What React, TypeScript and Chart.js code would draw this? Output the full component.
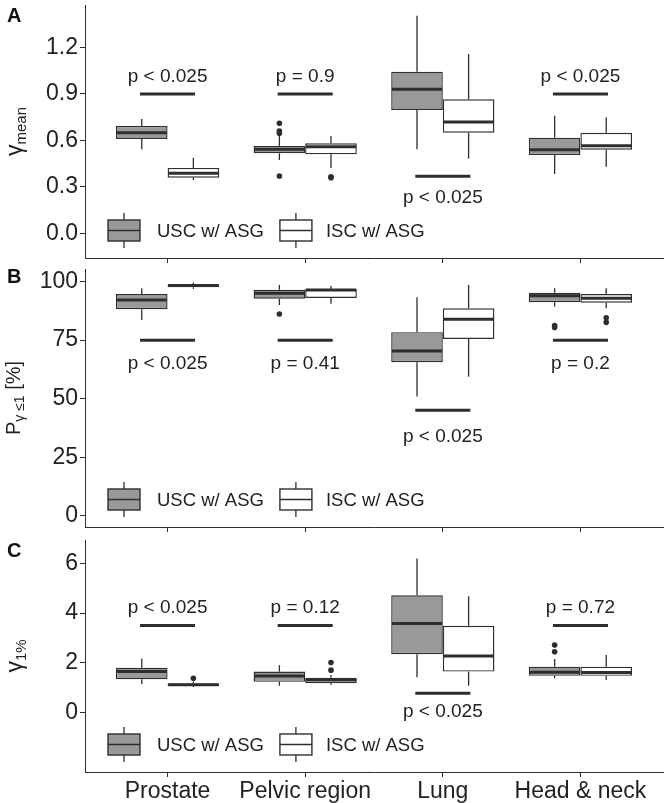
import React, { useEffect, useRef } from 'react';
import { Chart, registerables } from 'chart.js';

Chart.register(...registerables);

const FONT = '"Liberation Sans", Arial, Helvetica, sans-serif';
const INK = '#2e2e2e';
const TEXT = '#222222';

const categories = ['Prostate', 'Pelvic region', 'Lung', 'Head & neck'];
const seriesNames = ['USC w/ ASG', 'ISC w/ ASG'];
const seriesFills = ['#999999', '#ffffff'];

// ---------- Panel A : gamma mean ----------
const aTicks = [0, 0.3, 0.6, 0.9, 1.2];
const aTickLabels = ['0.0', '0.3', '0.6', '0.9', '1.2'];
const aUscQ1 = [0.61, 0.517, 0.797, 0.506];
const aUscMed = [0.65, 0.543, 0.93, 0.541];
const aUscQ3 = [0.694, 0.565, 1.044, 0.618];
const aUscLo = [0.543, 0.474, 0.543, 0.384];
const aUscHi = [0.739, 0.629, 1.405, 0.76];
const aIscQ1 = [0.36, 0.511, 0.65, 0.541];
const aIscMed = [0.388, 0.56, 0.719, 0.566];
const aIscQ3 = [0.423, 0.582, 0.866, 0.65];
const aIscLo = [0.345, 0.423, 0.483, 0.431];
const aIscHi = [0.489, 0.629, 1.158, 0.75];
const aUscOutCat = [2, 2, 2, 2];
const aUscOutVal = [0.711, 0.661, 0.646, 0.371];
const aIscOutCat = [2, 2];
const aIscOutVal = [0.366, 0.36];
const aPBarY = [0.9, 0.9, 0.37, 0.9];
const aPTextY = [0.98, 0.98, 0.2, 0.98];
const aPText = ['p < 0.025', 'p = 0.9', 'p < 0.025', 'p < 0.025'];

// ---------- Panel B : P gamma<=1 ----------
const bTicks = [0, 25, 50, 75, 100];
const bTickLabels = ['0', '25', '50', '75', '100'];
const bUscQ1 = [88.2, 92.7, 65.6, 91.2];
const bUscMed = [92.2, 95.0, 70.4, 94.0];
const bUscQ3 = [94.7, 96.5, 78.4, 95.3];
const bUscLo = [83.6, 90.0, 50.9, 89.3];
const bUscHi = [97.2, 98.6, 93.3, 97.2];
const bIscQ1 = [97.6, 93.0, 75.5, 91.0];
const bIscMed = [98.3, 96.4, 83.9, 92.9];
const bIscQ3 = [98.9, 96.9, 88.6, 94.7];
const bIscLo = [96.9, 90.5, 59.4, 88.6];
const bIscHi = [99.6, 98.2, 98.6, 97.2];
const bUscOutCat = [2, 4, 4];
const bUscOutVal = [86.2, 81.2, 80.4];
const bIscOutCat = [4, 4];
const bIscOutVal = [84.6, 82.6];
const bPBarY = [75, 75, 45, 75];
const bPTextY = [62.5, 62.5, 31.5, 62.5];
const bPText = ['p < 0.025', 'p = 0.41', 'p < 0.025', 'p = 0.2'];

// ---------- Panel C : gamma 1% ----------
const cTicks = [0, 2, 4, 6];
const cTickLabels = ['0', '2', '4', '6'];
const cUscQ1 = [1.33, 1.23, 2.34, 1.47];
const cUscMed = [1.64, 1.46, 3.58, 1.61];
const cUscQ3 = [1.8, 1.64, 4.72, 1.84];
const cUscLo = [1.14, 1.07, 1.41, 1.37];
const cUscHi = [2.17, 1.9, 6.2, 2.15];
const cIscQ1 = [1.06, 1.17, 1.64, 1.47];
const cIscMed = [1.11, 1.3, 2.27, 1.6];
const cIscQ3 = [1.16, 1.39, 3.49, 1.84];
const cIscLo = [1.02, 1.1, 1.07, 1.3];
const cIscHi = [1.24, 1.5, 4.68, 2.31];
const cUscOutCat = [4, 4];
const cUscOutVal = [2.71, 2.44];
const cIscOutCat = [1, 2, 2];
const cIscOutVal = [1.37, 2.01, 1.7];
const cPBarY = [3.5, 3.5, 0.77, 3.5];
const cPTextY = [4.0, 4.0, -0.21, 4.0];
const cPText = ['p < 0.025', 'p = 0.12', 'p < 0.025', 'p = 0.72'];

type Stats = { q1: number[]; med: number[]; q3: number[]; lo: number[]; hi: number[] };
type Seg = { t: string; sub?: boolean };
interface PanelSpec {
  letter: string;
  letterY: number;
  top: number;
  height: number;
  padTop: number;
  xHeight: number;
  yMin: number;
  yMax: number;
  yTicks: number[];
  yTickLabels: string[];
  showX: boolean;
  series: Stats[];
  outCat: number[][];
  outVal: number[][];
  pBarY: number[];
  pTextY: number[];
  pText: string[];
  title: Seg[];
  titleX: number;
  titleMain: number;
  titleSub: number;
}

const panels: PanelSpec[] = [
  {
    letter: 'A', letterY: 22, top: 0, height: 264, padTop: 5, xHeight: 6,
    yMin: -0.158, yMax: 1.474, yTicks: aTicks, yTickLabels: aTickLabels, showX: false,
    series: [
      { q1: aUscQ1, med: aUscMed, q3: aUscQ3, lo: aUscLo, hi: aUscHi },
      { q1: aIscQ1, med: aIscMed, q3: aIscQ3, lo: aIscLo, hi: aIscHi },
    ],
    outCat: [aUscOutCat, aIscOutCat], outVal: [aUscOutVal, aIscOutVal],
    pBarY: aPBarY, pTextY: aPTextY, pText: aPText,
    title: [{ t: 'γ' }, { t: 'mean', sub: true }], titleX: 22, titleMain: 23, titleSub: 15,
  },
  {
    letter: 'B', letterY: 283, top: 262, height: 271, padTop: 7, xHeight: 6,
    yMin: -4.83, yMax: 105.4, yTicks: bTicks, yTickLabels: bTickLabels, showX: false,
    series: [
      { q1: bUscQ1, med: bUscMed, q3: bUscQ3, lo: bUscLo, hi: bUscHi },
      { q1: bIscQ1, med: bIscMed, q3: bIscQ3, lo: bIscLo, hi: bIscHi },
    ],
    outCat: [bUscOutCat, bIscOutCat], outVal: [bUscOutVal, bIscOutVal],
    pBarY: bPBarY, pTextY: bPTextY, pText: bPText,
    title: [{ t: 'P' }, { t: 'γ ≤1', sub: true }, { t: ' [%]' }], titleX: 20, titleMain: 20, titleSub: 14,
  },
  {
    letter: 'C', letterY: 557, top: 532, height: 271, padTop: 8, xHeight: 31,
    yMin: -2.41, yMax: 6.95, yTicks: cTicks, yTickLabels: cTickLabels, showX: true,
    series: [
      { q1: cUscQ1, med: cUscMed, q3: cUscQ3, lo: cUscLo, hi: cUscHi },
      { q1: cIscQ1, med: cIscMed, q3: cIscQ3, lo: cIscLo, hi: cIscHi },
    ],
    outCat: [cUscOutCat, cIscOutCat], outVal: [cUscOutVal, cIscOutVal],
    pBarY: cPBarY, pTextY: cPTextY, pText: cPText,
    title: [{ t: 'γ' }, { t: '1%', sub: true }], titleX: 22, titleMain: 23, titleSub: 15,
  },
];

function seg(ctx: CanvasRenderingContext2D, x1: number, y1: number, x2: number, y2: number) {
  ctx.beginPath();
  ctx.moveTo(x1, y1);
  ctx.lineTo(x2, y2);
  ctx.stroke();
}

function buildConfig(p: PanelSpec): any {
  const DODGE = 0.1875;
  const datasets: any[] = [];
  p.series.forEach((s, si) => {
    datasets.push({
      type: 'bar',
      label: seriesNames[si],
      data: categories.map((_, i) => ({ x: i + 1, y: [s.q1[i], s.q3[i]] })),
      backgroundColor: seriesFills[si],
      borderColor: INK,
      borderWidth: 1.4,
      borderSkipped: false,
      categoryPercentage: 0.75,
      barPercentage: 1,
      inflateAmount: 0,
    });
  });
  p.outCat.forEach((cats, si) => {
    datasets.push({
      type: 'scatter',
      data: cats.map((c, k) => ({ x: c + (si === 0 ? -DODGE : DODGE), y: p.outVal[si][k] })),
      backgroundColor: INK,
      borderWidth: 0,
      pointRadius: 2.8,
      pointHoverRadius: 2.8,
    });
  });
  p.pBarY.forEach((y, i) => {
    datasets.push({
      type: 'line',
      data: [{ x: i + 1 - 0.2, y }, { x: i + 1 + 0.2, y }],
      borderColor: INK,
      borderWidth: 3,
      borderCapStyle: 'butt',
      pointRadius: 0,
      fill: false,
      tension: 0,
    });
  });

  const decor = {
    id: 'decor' + p.letter,
    afterDatasetsDraw(chart: any) {
      const ctx: CanvasRenderingContext2D = chart.ctx;
      const ys = chart.scales.y;
      ctx.save();
      ctx.strokeStyle = INK;
      ctx.lineCap = 'butt';
      p.series.forEach((s, si) => {
        const meta = chart.getDatasetMeta(si);
        meta.data.forEach((el: any, i: number) => {
          const x = el.x;
          const w = el.width;
          ctx.lineWidth = 1.3;
          seg(ctx, x, ys.getPixelForValue(s.q3[i]), x, ys.getPixelForValue(s.hi[i]));
          seg(ctx, x, ys.getPixelForValue(s.q1[i]), x, ys.getPixelForValue(s.lo[i]));
          ctx.lineWidth = 3;
          const my = ys.getPixelForValue(s.med[i]);
          seg(ctx, x - w / 2 + 0.7, my, x + w / 2 - 0.7, my);
        });
      });
      ctx.restore();
    },
    afterDraw(chart: any) {
      const ctx: CanvasRenderingContext2D = chart.ctx;
      const xs = chart.scales.x;
      const ys = chart.scales.y;
      const ca = chart.chartArea;
      ctx.save();
      // p-value labels
      ctx.fillStyle = TEXT;
      ctx.font = `19px ${FONT}`;
      ctx.textAlign = 'center';
      ctx.textBaseline = 'alphabetic';
      p.pText.forEach((t, i) => {
        ctx.fillText(t, xs.getPixelForValue(i + 1), ys.getPixelForValue(p.pTextY[i]));
      });
      // legend
      const cy = ca.bottom - 27.5;
      const bh = 21;
      const bw = 32;
      let x = ca.left + 23;
      ctx.font = `18.5px ${FONT}`;
      ctx.textAlign = 'left';
      ctx.textBaseline = 'middle';
      seriesNames.forEach((name, si) => {
        ctx.strokeStyle = INK;
        ctx.lineWidth = 1.3;
        seg(ctx, x + bw / 2, cy - bh / 2 - 7, x + bw / 2, cy + bh / 2 + 7);
        ctx.fillStyle = seriesFills[si];
        ctx.fillRect(x, cy - bh / 2, bw, bh);
        ctx.lineWidth = 1.4;
        ctx.strokeRect(x, cy - bh / 2, bw, bh);
        ctx.lineWidth = 1.5;
        seg(ctx, x, cy, x + bw, cy);
        const tx = x + bw + (si === 0 ? 17 : 14);
        ctx.fillStyle = TEXT;
        ctx.fillText(name, tx, cy + 1);
        x = tx + ctx.measureText(name).width + 16;
      });
      // panel letter
      ctx.font = `bold 20px ${FONT}`;
      ctx.textAlign = 'left';
      ctx.textBaseline = 'alphabetic';
      ctx.fillStyle = '#111111';
      ctx.fillText(p.letter, 7, p.letterY - p.top);
      // y title (rich text, rotated)
      const widths = p.title.map((sg) => {
        ctx.font = `${sg.sub ? p.titleSub : p.titleMain}px ${FONT}`;
        return ctx.measureText(sg.t).width;
      });
      const total = widths.reduce((a, b) => a + b, 0);
      ctx.translate(p.titleX, (ca.top + ca.bottom) / 2);
      ctx.rotate(-Math.PI / 2);
      ctx.fillStyle = TEXT;
      let tx = -total / 2;
      p.title.forEach((sg, k) => {
        ctx.font = `${sg.sub ? p.titleSub : p.titleMain}px ${FONT}`;
        ctx.fillText(sg.t, tx, sg.sub ? 4 : 0);
        tx += widths[k];
      });
      ctx.restore();
    },
  };

  return {
    type: 'bar',
    data: { datasets },
    plugins: [decor],
    options: {
      animation: false,
      responsive: false,
      maintainAspectRatio: false,
      devicePixelRatio: 1,
      events: [],
      layout: { padding: { top: p.padTop, right: 6, bottom: 0, left: 0 } },
      plugins: { legend: { display: false }, tooltip: { enabled: false } },
      scales: {
        x: {
          type: 'linear',
          min: 0.4,
          max: 4.6,
          offset: false,
          grid: { display: true, drawOnChartArea: false, drawTicks: true, tickLength: 5, offset: false, color: INK, lineWidth: 1 },
          border: { display: true, color: INK, width: 1 },
          ticks: {
            display: p.showX,
            autoSkip: false,
            maxRotation: 0,
            minRotation: 0,
            padding: 1,
            color: TEXT,
            font: { family: FONT, size: 23 },
            callback: (_v: any, index: number) => categories[index],
          },
          afterBuildTicks: (s: any) => {
            s.ticks = [1, 2, 3, 4].map((v) => ({ value: v }));
          },
          afterFit: (s: any) => {
            s.height = p.xHeight;
            s.paddingLeft = 0;
            s.paddingRight = 0;
          },
        },
        y: {
          type: 'linear',
          min: p.yMin,
          max: p.yMax,
          grid: { display: true, drawOnChartArea: false, drawTicks: true, tickLength: 5, color: INK, lineWidth: 1 },
          border: { display: true, color: INK, width: 1 },
          ticks: {
            padding: 2,
            color: TEXT,
            font: { family: FONT, size: 23 },
            callback: (_v: any, index: number) => p.yTickLabels[index],
          },
          afterBuildTicks: (s: any) => {
            s.ticks = p.yTicks.map((v) => ({ value: v }));
          },
          afterFit: (s: any) => {
            s.width = 85;
            s.paddingTop = 0;
            s.paddingBottom = 0;
          },
        },
      },
    },
  };
}

function Panel({ spec }: { spec: PanelSpec }) {
  const ref = useRef<HTMLCanvasElement>(null);
  useEffect(() => {
    if (!ref.current) return;
    const chart = new Chart(ref.current, buildConfig(spec));
    return () => chart.destroy();
  }, [spec]);
  return (
    <canvas
      ref={ref}
      width={669}
      height={spec.height}
      style={{ position: 'absolute', left: 0, top: spec.top, width: 669, height: spec.height, display: 'block' }}
    />
  );
}

export default function App() {
  return (
    <div style={{ position: 'absolute', left: 0, top: 0, width: 669, height: 803, background: '#ffffff', overflow: 'hidden' }}>
      {panels.map((p) => (
        <Panel key={p.letter} spec={p} />
      ))}
    </div>
  );
}
